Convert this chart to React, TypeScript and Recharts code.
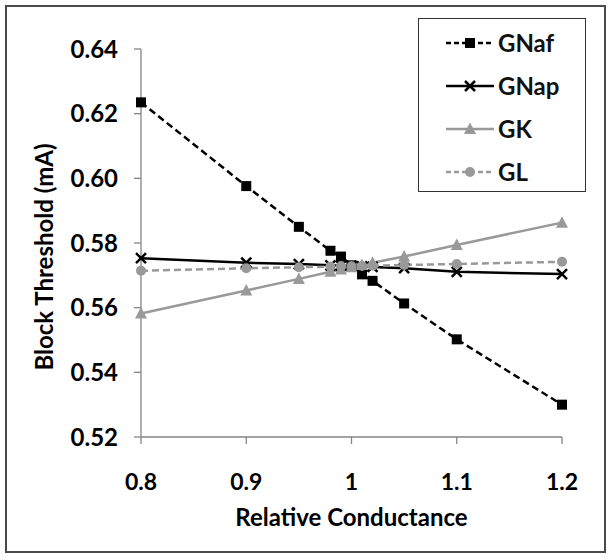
import { CartesianGrid, Legend, Line, LineChart, XAxis, YAxis } from 'recharts'

// relative conductance (x) and block threshold (mA) per channel
const conductance = [0.8, 0.9, 0.95, 0.98, 0.99, 1.0, 1.01, 1.02, 1.05, 1.1, 1.2]
const gnaf = [0.6235, 0.5976, 0.585, 0.5776, 0.5758, 0.5731, 0.5703, 0.5683, 0.5613, 0.5502, 0.53]
const gnap = [0.5753, 0.5739, 0.5735, 0.5731, 0.573, 0.5729, 0.5728, 0.5726, 0.5722, 0.5711, 0.5704]
const gk = [0.5582, 0.5653, 0.5689, 0.5711, 0.5718, 0.5725, 0.5732, 0.5739, 0.5758, 0.5794, 0.5863]
const gl = [0.5714, 0.5722, 0.5725, 0.5727, 0.5728, 0.5728, 0.5729, 0.573, 0.5732, 0.5735, 0.5742]

const xTicks = [0.8, 0.9, 1, 1.1, 1.2]
const yTicks = [0.52, 0.54, 0.56, 0.58, 0.6, 0.62, 0.64]

const data = conductance.map((x, i) => ({
  x,
  GNaf: gnaf[i],
  GNap: gnap[i],
  GK: gk[i],
  GL: gl[i],
}))

const FONT = 'Lato, "Open Sans", sans-serif'
const GRAY = '#999999'
const AXIS = '#858585'

type Shape = 'square' | 'cross' | 'triangle' | 'circle'

const series: { key: string; color: string; dash?: string; shape: Shape }[] = [
  { key: 'GNaf', color: '#000000', dash: '7 4', shape: 'square' },
  { key: 'GNap', color: '#000000', shape: 'cross' },
  { key: 'GK', color: GRAY, shape: 'triangle' },
  { key: 'GL', color: GRAY, dash: '7 4', shape: 'circle' },
]

function Marker({ cx, cy, shape, color }: { cx: number; cy: number; shape: Shape; color: string }) {
  if (cx == null || cy == null) return null
  if (shape === 'square') return <rect x={cx - 5} y={cy - 5} width={10} height={10} fill={color} />
  if (shape === 'cross')
    return (
      <path
        d={`M${cx - 5},${cy - 5}L${cx + 5},${cy + 5}M${cx - 5},${cy + 5}L${cx + 5},${cy - 5}`}
        stroke={color}
        strokeWidth={2.5}
      />
    )
  if (shape === 'triangle')
    return <path d={`M${cx},${cy - 6.5}L${cx + 6},${cy + 5}L${cx - 6},${cy + 5}Z`} fill={color} />
  return <circle cx={cx} cy={cy} r={5} fill={color} />
}

function YLabel({ viewBox }: any) {
  const cx = viewBox.x + 43
  const cy = viewBox.y + viewBox.height / 2 + 14
  return (
    <text
      x={cx}
      y={cy}
      transform={`rotate(-90 ${cx} ${cy})`}
      textAnchor="middle"
      dominantBaseline="central"
      fill="#000"
      fontSize={24}
      fontWeight={700}
      fontFamily={FONT}
    >
      Block Threshold (mA)
    </text>
  )
}

function LegendBox() {
  return (
    <div
      style={{
        width: 168,
        height: 174,
        boxSizing: 'border-box',
        border: '1.5px solid #333',
        background: '#fff',
        paddingTop: 2,
      }}
    >
      {series.map((s) => (
        <div key={s.key} style={{ display: 'flex', alignItems: 'center', height: 43 }}>
          <svg width={78} height={20}>
            <line x1={27} x2={75} y1={10} y2={10} stroke={s.color} strokeWidth={2.5} strokeDasharray={s.dash ? '5 3' : undefined} />
            <Marker cx={51} cy={10} shape={s.shape} color={s.color} />
          </svg>
          <span style={{ fontFamily: FONT, fontWeight: 700, fontSize: 24, color: '#111', marginLeft: 1 }}>{s.key}</span>
        </div>
      ))}
    </div>
  )
}

export default function App() {
  return (
    <div style={{ position: 'absolute', left: 0, top: 0, width: 612, height: 560, background: '#fff' }}>
      <div
        style={{
          position: 'absolute',
          left: 5,
          top: 5,
          width: 601,
          height: 548,
          boxSizing: 'border-box',
          border: '2px solid #4a4a4a',
        }}
      />
      <LineChart width={612} height={560} data={data} margin={{ top: 49, right: 50, bottom: 0, left: 0 }}>
        <CartesianGrid stroke="none" />
        <XAxis
          dataKey="x"
          type="number"
          domain={[0.8, 1.2]}
          ticks={xTicks}
          stroke={AXIS}
          strokeWidth={1.3}
          tickSize={7}
          tickMargin={30}
          height={123}
          tick={{ fill: '#000', fontSize: 23, fontWeight: 700, fontFamily: FONT }}
          label={{
            value: 'Relative Conductance',
            position: 'insideTop',
            offset: 72,
            fill: '#000',
            fontSize: 24,
            fontWeight: 700,
            fontFamily: FONT,
          }}
        />
        <YAxis
          type="number"
          domain={[0.52, 0.64]}
          ticks={yTicks}
          width={141}
          stroke={AXIS}
          strokeWidth={1.3}
          tickSize={7}
          tickMargin={16}
          tickFormatter={(v: number) => v.toFixed(2)}
          tick={{ fill: '#000', fontSize: 24, fontWeight: 700, fontFamily: FONT }}
          label={(p: any) => <YLabel viewBox={p.viewBox} />}
        />
        {series.map((s) => (
          <Line
            key={s.key}
            dataKey={s.key}
            stroke={s.color}
            strokeWidth={2.5}
            strokeDasharray={s.dash}
            isAnimationActive={false}
            dot={(p: any) => <Marker key={`${s.key}-${p.index}`} cx={p.cx} cy={p.cy} shape={s.shape} color={s.color} />}
            activeDot={false}
          />
        ))}
        <Legend
          layout="vertical"
          align="center"
          verticalAlign="middle"
          wrapperStyle={{ left: 418, top: 18, width: 168, height: 174 }}
          content={() => <LegendBox />}
        />
      </LineChart>
    </div>
  )
}
